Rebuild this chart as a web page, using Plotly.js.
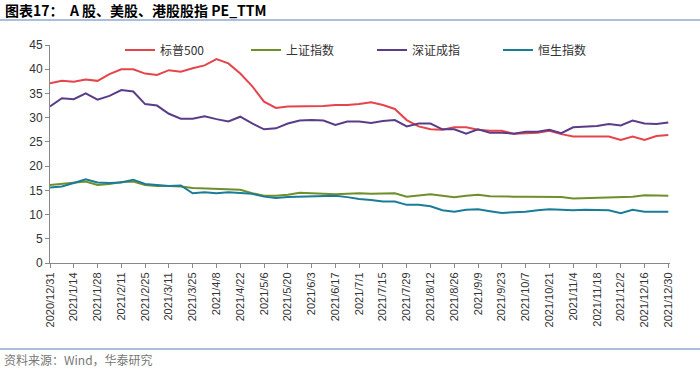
<!DOCTYPE html>
<html>
<head>
<meta charset="utf-8">
<script src="https://cdn.plot.ly/plotly-3.0.1.min.js"></script>
<style>
html,body{margin:0;padding:0;background:#fff;}
#chart{width:700px;height:370px;}
</style>
</head>
<body>
<div id="chart"></div>
<script>
// weekly observation dates
const dates = [
'2020-12-31','2021-01-07','2021-01-14','2021-01-21','2021-01-28','2021-02-04','2021-02-11','2021-02-18','2021-02-25',
'2021-03-04','2021-03-11','2021-03-18','2021-03-25','2021-04-01','2021-04-08','2021-04-15','2021-04-22','2021-04-29',
'2021-05-06','2021-05-13','2021-05-20','2021-05-27','2021-06-03','2021-06-10','2021-06-17','2021-06-24','2021-07-01',
'2021-07-08','2021-07-15','2021-07-22','2021-07-29','2021-08-05','2021-08-12','2021-08-19','2021-08-26','2021-09-02',
'2021-09-09','2021-09-16','2021-09-23','2021-09-30','2021-10-07','2021-10-14','2021-10-21','2021-10-28','2021-11-04',
'2021-11-11','2021-11-18','2021-11-25','2021-12-02','2021-12-09','2021-12-16','2021-12-23','2021-12-30'];

const sp500 = [37.1,37.6,37.4,37.9,37.6,39.0,40.0,40.0,39.1,38.8,39.8,39.5,40.2,40.8,42.1,41.2,39.1,36.5,
33.3,32.0,32.3,32.3,32.3,32.4,32.6,32.6,32.8,33.2,32.6,31.8,29.5,28.2,27.6,27.5,28.0,28.0,
27.5,27.3,27.3,26.7,26.8,26.9,27.3,26.6,26.1,26.1,26.1,26.1,25.4,26.1,25.4,26.2,26.4];

const shanghai = [16.1,16.3,16.6,16.8,16.1,16.3,16.7,16.8,16.1,15.9,15.9,15.8,15.5,15.4,15.2,15.1,15.1,14.4,
13.9,13.9,14.1,14.5,14.4,14.3,14.2,14.3,14.4,14.3,14.3,14.4,13.7,14.0,14.2,13.9,13.6,13.9,
14.1,13.8,13.7,13.7,13.7,13.7,13.7,13.6,13.3,13.4,13.4,13.5,13.6,13.7,14.0,13.9,13.9];

const shenzhen = [32.3,34.0,33.8,35.0,33.7,34.5,35.7,35.4,32.8,32.5,30.8,29.8,29.8,30.3,29.7,29.2,30.2,28.8,
27.6,27.8,28.8,29.4,29.5,29.4,28.5,29.2,29.2,28.9,29.3,29.5,28.2,28.8,28.8,27.6,27.6,26.7,
27.6,26.9,26.9,26.7,27.1,27.1,27.5,26.8,28.0,28.1,28.3,28.7,28.4,29.4,28.8,28.7,29.0];

const hangseng = [15.6,15.8,16.5,17.3,16.6,16.5,16.6,17.2,16.3,16.1,15.9,16.0,14.4,14.6,14.4,14.6,14.4,14.3,
13.7,13.4,13.6,13.7,13.7,13.8,13.9,13.6,13.2,13.0,12.7,12.7,12.0,12.0,11.7,10.9,10.6,11.0,
11.1,10.7,10.3,10.5,10.6,10.9,11.1,11.0,10.9,11.0,11.0,10.9,10.3,11.0,10.6,10.6,10.6];

const seriesNames = ['标普500','上证指数','深证成指','恒生指数'];
const seriesColors = ['#E5444B','#6F8F2B','#5A3C88','#1B7C98'];
const seriesData = [sp500, shanghai, shenzhen, hangseng];

const tickDates = ['2020-12-31','2021-01-14','2021-01-28','2021-02-11','2021-02-25','2021-03-11','2021-03-25',
'2021-04-08','2021-04-22','2021-05-06','2021-05-20','2021-06-03','2021-06-17','2021-07-01','2021-07-15',
'2021-07-29','2021-08-12','2021-08-26','2021-09-09','2021-09-23','2021-10-07','2021-10-21','2021-11-04',
'2021-11-18','2021-12-02','2021-12-16','2021-12-30'];
const tickLabels = ['2020/12/31','2021/1/14','2021/1/28','2021/2/11','2021/2/25','2021/3/11','2021/3/25',
'2021/4/8','2021/4/22','2021/5/6','2021/5/20','2021/6/3','2021/6/17','2021/7/1','2021/7/15',
'2021/7/29','2021/8/12','2021/8/26','2021/9/9','2021/9/23','2021/10/7','2021/10/21','2021/11/4',
'2021/11/18','2021/12/2','2021/12/16','2021/12/30'];

const traces = seriesNames.map((n,i)=>({
  type:'scatter', mode:'lines', name:n, x:dates, y:seriesData[i],
  line:{color:seriesColors[i], width:2}
}));

const L=50, R=30, T=45, B=107;
const W=700-L-R, H=370-T-B;

const layout = {
  width:700, height:370,
  margin:{l:L, r:R, t:T, b:B, pad:0},
  paper_bgcolor:'#fff', plot_bgcolor:'#fff',
  font:{family:'"Liberation Sans", Arial, "Noto Sans CJK SC", sans-serif', color:'#333'},
  showlegend:true,
  legend:{orientation:'h', x:(120-L)/W, xanchor:'left', y:1-(50-T)/H, yanchor:'middle',
    entrywidth:81, entrywidthmode:'pixels', bgcolor:'rgba(0,0,0,0)',
    font:{size:12, family:'"Noto Sans CJK SC", "Liberation Sans", sans-serif', color:'#333'}},
  xaxis:{type:'date', range:['2020-12-31','2021-12-31'], tickmode:'array', tickvals:tickDates, ticktext:tickLabels,
    tickangle:-90, ticks:'outside', ticklen:4, tickcolor:'#888', showline:true, linecolor:'#888', linewidth:1,
    showgrid:false, zeroline:false, tickfont:{size:11, color:'#333', family:'"Liberation Sans", Arial, sans-serif'}},
  yaxis:{range:[0,45], dtick:5, tick0:0, ticks:'outside', ticklen:4, tickcolor:'#888', showline:true, linecolor:'#888',
    linewidth:1, showgrid:false, zeroline:false, tickfont:{size:12, color:'#333', family:'"Liberation Sans", Arial, sans-serif'}},
  shapes:[
    {type:'line', xref:'paper', yref:'paper', x0:-L/W, x1:(700-L)/W, y0:1+(T-20)/H, y1:1+(T-20)/H, line:{color:'#8FA8CF', width:1.5}},
    {type:'line', xref:'paper', yref:'paper', x0:-L/W, x1:(700-L)/W, y0:-(349-(370-B))/H, y1:-(349-(370-B))/H, line:{color:'#8FA8CF', width:1.5}}
  ],
  annotations:[
    {xref:'paper', yref:'paper', x:-(L-3)/W, xanchor:'left', y:1+(T-10)/H, yanchor:'middle', showarrow:false,
     text:'<b>图表17：  A 股、美股、港股股指 PE_TTM</b>', font:{size:14, color:'#000', family:'"Noto Sans CJK SC", "Liberation Sans", sans-serif'}},
    {xref:'paper', yref:'paper', x:-(L-2)/W, xanchor:'left', y:-(359-(370-B))/H, yanchor:'middle', showarrow:false,
     text:'资料来源：Wind，华泰研究', font:{size:12, color:'#777', family:'"Noto Sans CJK SC", sans-serif'}}
  ]
};

Plotly.newPlot('chart', traces, layout, {displayModeBar:false, staticPlot:true});
</script>
</body>
</html>
